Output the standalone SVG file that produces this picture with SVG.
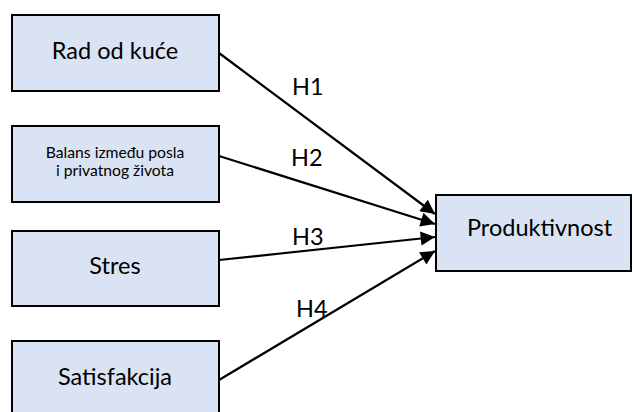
<svg xmlns="http://www.w3.org/2000/svg" width="634" height="412" viewBox="0 0 634 412">
<style>
.box{fill:#DAE3F3;stroke:#000;stroke-width:2}
.t{font-family:Lato,"Liberation Sans",sans-serif;fill:#000;text-anchor:middle}
.big{font-size:23.5px}
.sm{font-size:15.7px}
.lbl{font-family:Lato,"Liberation Sans",sans-serif;font-size:23.5px;fill:#000}
.c{stroke:#000;stroke-width:2.2;fill:none;marker-end:url(#ah)}
</style>
<defs>
<marker id="ah" viewBox="0 0 10 10" refX="10" refY="5" markerWidth="7" markerHeight="6.5" markerUnits="strokeWidth" orient="auto">
<path d="M0,0 L10,5 L0,10 z" fill="#000"/>
</marker>
</defs>
<g id="connectors">
<line class="c" x1="219" y1="53" x2="435" y2="214"/>
<line class="c" x1="219" y1="156" x2="435" y2="224"/>
<line class="c" x1="219" y1="260" x2="435" y2="237"/>
<line class="c" x1="219" y1="380" x2="435" y2="251"/>
<text class="lbl" x="292" y="95">H1</text>
<text class="lbl" x="291" y="166">H2</text>
<text class="lbl" x="292" y="245">H3</text>
<text class="lbl" x="296" y="317">H4</text>
</g>
<g id="rad">
<rect class="box" x="12" y="15" width="207" height="76"/>
<text class="t big" x="115" y="59">Rad od kuće</text>
</g>
<g id="balans">
<rect class="box" x="12" y="126" width="207" height="76"/>
<text class="t sm" x="115" y="158">Balans između posla</text>
<text class="t sm" x="115" y="176">i privatnog života</text>
</g>
<g id="stres">
<rect class="box" x="12" y="231" width="207" height="75"/>
<text class="t big" x="115" y="274">Stres</text>
</g>
<g id="satisfakcija">
<rect class="box" x="12" y="341" width="207" height="80"/>
<text class="t big" x="115" y="385">Satisfakcija</text>
</g>
<g id="produktivnost">
<rect class="box" x="436" y="195" width="195" height="76"/>
<text class="t big" x="539.5" y="236">Produktivnost</text>
</g>
</svg>
